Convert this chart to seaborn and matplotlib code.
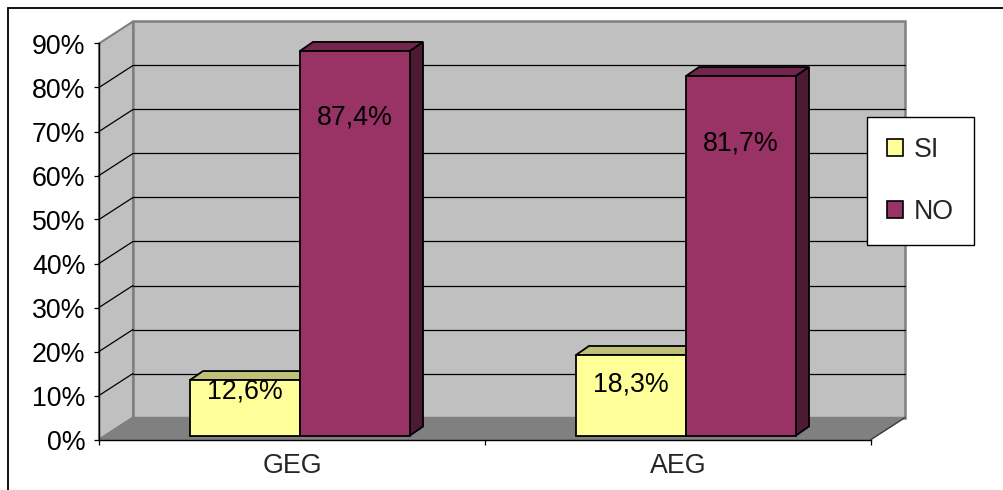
import numpy as np
import pandas as pd
import seaborn as sns
import matplotlib.pyplot as plt
from matplotlib.patches import Polygon, Rectangle, Patch
from matplotlib.lines import Line2D
from matplotlib.transforms import ScaledTranslation

# ---- data -------------------------------------------------------------
groups = ["GEG", "AEG"]
answers = ["SI", "NO"]
si_share = [0.126, 0.183]
no_share = [0.874, 0.817]
value_labels = {"SI": ["12,6%", "18,3%"], "NO": ["87,4%", "81,7%"]}
y_ticks = [0.0, 0.1, 0.2, 0.3, 0.4, 0.5, 0.6, 0.7, 0.8, 0.9]
y_tick_labels = ["0%", "10%", "20%", "30%", "40%", "50%", "60%", "70%", "80%", "90%"]

# ---- style / layout ---------------------------------------------------
front_color = {"SI": "#FFFF99", "NO": "#993366"}
top_color = {"SI": "#C0C078", "NO": "#73264D"}
side_color = {"SI": "#BFBF73", "NO": "#4D1A33"}
wall_color = "#C0C0C0"
floor_color = "#808080"
edge_gray = "#808080"
label_height = {"SI": [0.100, 0.116], "NO": [0.723, 0.664]}  # text anchor heights

W, H, DPI = 1004, 490, 100
wall_depth = (34, 22)     # px offset of the back wall from the front plane
bar_front = (8, 4)        # px offset of the bar fronts from the front plane
bar_depth = (13, 9)       # px depth of each bar
FS = 19.3

sns.set_style("white")
plt.rcParams["font.family"] = ["Liberation Sans", "DejaVu Sans"]

fig = plt.figure(figsize=(W / DPI, H / DPI), dpi=DPI)
ax_left, ax_right, ax_base, ax_top = 99, 871, 439.5, 43.5
ax = fig.add_axes([ax_left / W, (H - ax_base) / H,
                   (ax_right - ax_left) / W, (ax_base - ax_top) / H])

df = pd.DataFrame({
    "group": groups * 2,
    "answer": ["SI"] * len(groups) + ["NO"] * len(groups),
    "share": si_share + no_share,
})

sns.barplot(data=df, x="group", y="share", hue="answer", order=groups,
            hue_order=answers, palette=front_color, width=0.57, gap=0,
            edgecolor="black", linewidth=1.3, legend=False, ax=ax,
            zorder=5, saturation=1)

xmin, xmax, ymin, ymax = -0.5, 1.5, 0.0, 0.9
ax.set_xlim(xmin, xmax)
ax.set_ylim(ymin, ymax)

# pixel -> data unit conversion (axes geometry is fixed)
sx = (xmax - xmin) / (ax_right - ax_left)
sy = (ymax - ymin) / (ax_base - ax_top)


def off(p, d, k=1.0):
    return (p[0] + k * d[0] * sx, p[1] + k * d[1] * sy)


D = wall_depth
# back wall
bw = [off((xmin, ymin), D), off((xmax, ymin), D), off((xmax, ymax), D), off((xmin, ymax), D)]
ax.add_patch(Polygon(bw, closed=True, fc=wall_color, ec=edge_gray, lw=1.8,
                     zorder=0, clip_on=False))
# left side wall
sw = [(xmin, ymin), off((xmin, ymin), D), off((xmin, ymax), D), (xmin, ymax)]
ax.add_patch(Polygon(sw, closed=True, fc=wall_color, ec=edge_gray, lw=1.5,
                     zorder=0.5, clip_on=False))
# floor
fl = [(xmin, ymin), (xmax, ymin), off((xmax, ymin), D), off((xmin, ymin), D)]
ax.add_patch(Polygon(fl, closed=True, fc=floor_color, ec=floor_color, lw=1.0,
                     zorder=1, clip_on=False))
ax.add_line(Line2D([xmax, off((xmax, ymin), D)[0]], [ymin, off((xmax, ymin), D)[1]],
                   color="#404040", lw=1.0, zorder=1.2, clip_on=False))

# gridlines on the back wall and their diagonals on the side wall
for y in y_ticks[1:-1]:
    a = off((xmin, y), D)
    b = off((xmax, y), D)
    ax.add_line(Line2D([a[0], b[0]], [a[1], b[1]], color="black", lw=0.9,
                       zorder=0.8, clip_on=False))
    ax.add_line(Line2D([xmin, a[0]], [y, a[1]], color="black", lw=0.9,
                       zorder=0.8, clip_on=False))

# bars: shift the fronts back a little and add top / side faces;
# each hue level gets its own layer so later bars cover earlier side faces
shift = ScaledTranslation(bar_front[0] / DPI, bar_front[1] / DPI, fig.dpi_scale_trans)
B = bar_depth
for k, (level, container) in enumerate(zip(answers, ax.containers)):
    z = 5 + 2 * k
    for i, bar in enumerate(container):
        bar.set_transform(ax.transData + shift)
        bar.set_zorder(z + 0.2)
        bar.set_clip_on(False)
        x0 = bar.get_x()
        x1 = x0 + bar.get_width()
        h = bar.get_height()
        p10 = off((x1, 0), bar_front)
        p0h = off((x0, h), bar_front)
        p1h = off((x1, h), bar_front)
        top = [p0h, p1h, off(p1h, B), off(p0h, B)]
        side = [p10, off(p10, B), off(p1h, B), p1h]
        ax.add_patch(Polygon(top, closed=True, fc=top_color[level], ec="black",
                             lw=1.3, zorder=z, clip_on=False, joinstyle="miter"))
        ax.add_patch(Polygon(side, closed=True, fc=side_color[level], ec="black",
                             lw=1.3, zorder=z, clip_on=False, joinstyle="miter"))
        ax.text((x0 + x1) / 2, label_height[level][i], value_labels[level][i],
                transform=ax.transData + shift, ha="center", va="center",
                fontsize=FS, color="black", zorder=z + 0.5)

# axes lines and ticks
for s in ["top", "right"]:
    ax.spines[s].set_visible(False)
for s in ["left", "bottom"]:
    ax.spines[s].set_color("black")
    ax.spines[s].set_linewidth(1.0)
    ax.spines[s].set_zorder(2)
ax.set_yticks(y_ticks, y_tick_labels)
ax.tick_params(axis="y", length=3.8, width=0.9, pad=6.0, labelsize=FS,
               direction="out", colors="black", left=True)
ax.set_xticks(range(len(groups)), groups)
ax.tick_params(axis="x", which="major", length=0, pad=10.0, labelsize=FS)
ax.set_xticks([xmin, 0.5, xmax], minor=True)
ax.tick_params(axis="x", which="minor", length=3.8, width=0.9, direction="out",
               bottom=True, colors="black")
ax.set_xlabel("")
ax.set_ylabel("")
ax.patch.set_visible(False)
ax.grid(False)

# legend
handles = [Patch(facecolor=front_color[a], edgecolor="black", linewidth=1.2) for a in answers]
fig.legend(handles, answers, loc="upper left",
           bbox_to_anchor=(867 / W, 1 - 117 / H), frameon=True, fancybox=False,
           edgecolor="black", framealpha=1, fontsize=FS, handlelength=0.6,
           handleheight=0.6, handletextpad=0.4, labelspacing=1.35,
           borderpad=0.75, borderaxespad=0)

# outer chart frame
fig.add_artist(Rectangle((8 / W, -0.1), 1.2, 1.1 - 8.5 / H, transform=fig.transFigure,
                         fill=False, ec="black", lw=1.3))

fig.savefig("out.png", dpi=DPI, facecolor="white")
